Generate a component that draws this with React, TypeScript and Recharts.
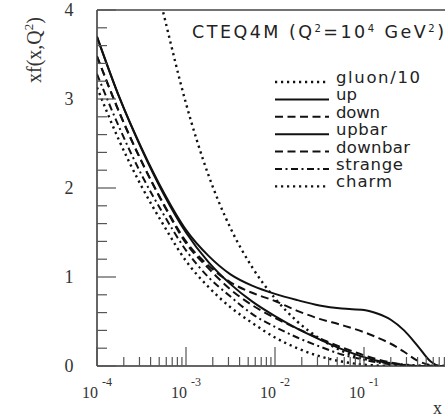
import { Customized, Line, LineChart, ReferenceLine, XAxis, YAxis } from "recharts";

// x positions (quarter decades, then finer near the valence bump)
const xValues = [
  1e-4, 1.78e-4, 3.16e-4, 5.62e-4, 1e-3, 1.78e-3, 3.16e-3, 5.62e-3, 1e-2, 1.78e-2,
  3.16e-2, 5.62e-2, 0.1, 0.141, 0.2, 0.282, 0.398, 0.562, 0.708, 0.8,
];
const gluon10 = [7.4, 6.2, 5.0, 3.95, 2.95, 2.15, 1.55, 1.1, 0.76, 0.5, 0.31, 0.17, 0.08, 0.05, 0.03, 0.015, 0.005, 0, 0, 0];
const up = [3.7, 3.02, 2.45, 1.95, 1.53, 1.24, 1.03, 0.9, 0.81, 0.74, 0.68, 0.645, 0.63, 0.59, 0.52, 0.4, 0.23, 0.05, 0, 0];
const down = [3.48, 2.85, 2.3, 1.82, 1.4, 1.13, 0.94, 0.82, 0.73, 0.62, 0.53, 0.46, 0.38, 0.32, 0.25, 0.16, 0.06, 0.01, 0, 0];
const upbar = [3.7, 3.02, 2.44, 1.93, 1.5, 1.17, 0.92, 0.72, 0.56, 0.42, 0.3, 0.19, 0.1, 0.06, 0.03, 0.01, 0, 0, 0, 0];
const downbar = [3.48, 2.85, 2.3, 1.81, 1.38, 1.1, 0.86, 0.68, 0.54, 0.42, 0.31, 0.21, 0.12, 0.075, 0.04, 0.015, 0, 0, 0, 0];
const strange = [3.28, 2.68, 2.15, 1.7, 1.3, 1.0, 0.78, 0.58, 0.44, 0.32, 0.22, 0.13, 0.07, 0.04, 0.02, 0.005, 0, 0, 0, 0];
const charm = [3.13, 2.53, 2.02, 1.58, 1.18, 0.89, 0.66, 0.48, 0.32, 0.2, 0.11, 0.05, 0.015, 0.005, 0, 0, 0, 0, 0, 0];

const decades = [1e-4, 1e-3, 1e-2, 1e-1];
const decadeExponents = ["-4", "-3", "-2", "-1"];
const minorSteps = [1, 2, 3, 4, 5, 6, 7, 8, 9];
const yTicks = [0, 0.2, 0.4, 0.6, 0.8, 1, 1.2, 1.4, 1.6, 1.8, 2, 2.2, 2.4, 2.6, 2.8, 3, 3.2, 3.4, 3.6, 3.8, 4];
const yMajorLabels = ["0", "1", "2", "3", "4"];

const legendNames = ["gluon/10", "up", "down", "upbar", "downbar", "strange", "charm"];

const X_MAX = 0.813;
const xTicks = decades.flatMap((d) => minorSteps.map((m) => m * d)).filter((v) => v <= X_MAX);

const data = xValues.map((x, i) => ({
  x,
  gluon: gluon10[i],
  up: up[i],
  down: down[i],
  upbar: upbar[i],
  downbar: downbar[i],
  strange: strange[i],
  charm: charm[i],
}));

const INK = "#111";
const DOT = "2.2 3.8";
const DASH = "8 4.5";
const DASHDOT = "7 3.5 2 3.5";

const styles: Record<string, { dash?: string; width: number }> = {
  "gluon/10": { dash: DOT, width: 2.4 },
  up: { width: 2 },
  down: { dash: DASH, width: 2 },
  upbar: { width: 2 },
  downbar: { dash: DASH, width: 2 },
  strange: { dash: DASHDOT, width: 2 },
  charm: { dash: DOT, width: 2.4 },
};
const legendTextWidths = [84, 21, 44, 51, 74, 67, 56];

const serif = "'Liberation Serif', 'Times New Roman', serif";
const sans = "'DejaVu Sans', sans-serif";

function XTick({ x, y, payload }: any) {
  const v = payload.value as number;
  const idx = decades.findIndex((d) => Math.abs(d - v) / d < 1e-6);
  const major = idx >= 0;
  return (
    <g>
      <line x1={x} x2={x} y1={y} y2={y - (major ? 19 : 9)} stroke="#555" strokeWidth={1.2} />
      {major && (
        <text x={x} y={y + 32} textAnchor="middle" fontFamily={serif} fontSize={16} fill="#333">
          10
          <tspan dx={4} dy={-12} fontSize={12}>
            {decadeExponents[idx]}
          </tspan>
        </text>
      )}
    </g>
  );
}

function YTick({ x, y, payload }: any) {
  const v = payload.value as number;
  const major = Math.abs(v - Math.round(v)) < 1e-6;
  return (
    <g>
      <line x1={x} x2={x + (major ? 19 : 10)} y1={y} y2={y} stroke="#555" strokeWidth={1.2} />
      {major && (
        <text x={x - 28} y={y} dy="0.36em" textAnchor="middle" fontFamily={serif} fontSize={18} fill="#333">
          {yMajorLabels[Math.round(v)]}
        </text>
      )}
    </g>
  );
}

function Annotations() {
  return (
    <g>
      <text x={192} y={38} fontFamily={sans} fontSize={17.5} fill="#222" textLength={252} lengthAdjust="spacing">
        CTEQ4M (Q
        <tspan dy={-6} fontSize={10}>2</tspan>
        <tspan dy={6}>=10</tspan>
        <tspan dy={-6} fontSize={10}>4</tspan>
        <tspan dy={6}> GeV</tspan>
        <tspan dy={-6} fontSize={10}>2</tspan>
        <tspan dy={6}>)</tspan>
      </text>
      {legendNames.map((name, i) => {
        const base = 83 + i * 17.4;
        const s = styles[name];
        return (
          <g key={name}>
            <line
              x1={275}
              x2={329}
              y1={base - 1}
              y2={base - 1}
              stroke={INK}
              strokeWidth={s.width}
              strokeDasharray={s.dash}
            />
            <text
              x={336}
              y={base}
              fontFamily={sans}
              fontSize={16.5}
              fill="#222"
              textLength={legendTextWidths[i]}
              lengthAdjust="spacing"
            >
              {name}
            </text>
          </g>
        );
      })}
      <text
        transform="translate(41 50) rotate(-90)"
        textAnchor="middle"
        fontFamily={serif}
        fontSize={20}
        fill="#333"
      >
        xf(x,Q
        <tspan dy={-8} fontSize={13}>2</tspan>
        <tspan dy={8}>)</tspan>
      </text>
      <text x={433} y={414} fontFamily={serif} fontSize={18} fill="#333">
        x
      </text>
    </g>
  );
}

export default function App() {
  return (
    <div style={{ position: "absolute", left: 0, top: 0, background: "#fff" }}>
      <LineChart width={445} height={417} data={data} margin={{ top: 10, right: 0, bottom: 0, left: 0 }}>
        <XAxis
          dataKey="x"
          type="number"
          scale="log"
          domain={[1e-4, X_MAX]}
          allowDataOverflow
          ticks={xTicks}
          interval={0}
          tickSize={0}
          tickMargin={0}
          tick={<XTick />}
          height={51}
          axisLine={{ stroke: "#333", strokeWidth: 1.5 }}
        />
        <YAxis
          type="number"
          domain={[0, 4]}
          allowDataOverflow
          ticks={yTicks}
          interval={0}
          tickSize={0}
          tickMargin={0}
          tick={<YTick />}
          width={97}
          axisLine={{ stroke: "#333", strokeWidth: 1.5 }}
        />
        <ReferenceLine y={4} stroke="#444" strokeWidth={1.5} />
        <Line dataKey="charm" type="monotone" stroke={INK} strokeWidth={2.4} strokeDasharray={DOT} dot={false} isAnimationActive={false} />
        <Line dataKey="strange" type="monotone" stroke={INK} strokeWidth={2} strokeDasharray={DASHDOT} dot={false} isAnimationActive={false} />
        <Line dataKey="downbar" type="monotone" stroke={INK} strokeWidth={2} strokeDasharray={DASH} dot={false} isAnimationActive={false} />
        <Line dataKey="upbar" type="monotone" stroke={INK} strokeWidth={2} dot={false} isAnimationActive={false} />
        <Line dataKey="down" type="monotone" stroke={INK} strokeWidth={2} strokeDasharray={DASH} dot={false} isAnimationActive={false} />
        <Line dataKey="up" type="monotone" stroke={INK} strokeWidth={2} dot={false} isAnimationActive={false} />
        <Line dataKey="gluon" type="monotone" stroke={INK} strokeWidth={2.4} strokeDasharray={DOT} dot={false} isAnimationActive={false} />
        <Customized component={Annotations} />
      </LineChart>
    </div>
  );
}
